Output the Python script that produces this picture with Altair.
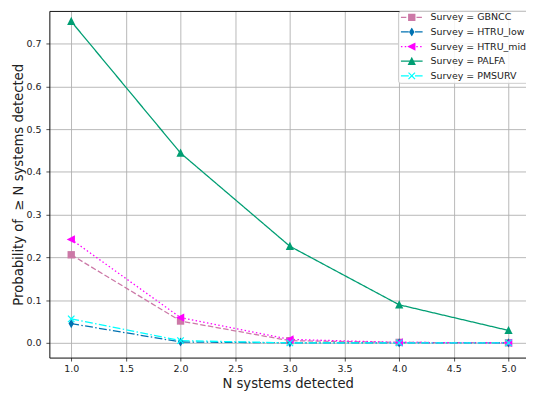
import altair as alt
import pandas as pd

# ---- data ----
n_systems = [1, 2, 3, 4, 5]
surveys = ["GBNCC", "HTRU_low", "HTRU_mid", "PALFA", "PMSURV"]
gbncc = [0.206, 0.051, 0.005, 0.001, 0.0]
htru_low = [0.045, 0.002, 0.0, 0.0, 0.0]
htru_mid = [0.242, 0.059, 0.008, 0.001, 0.0]
palfa = [0.752, 0.444, 0.226, 0.089, 0.029]
pmsurv = [0.056, 0.005, 0.0, 0.0, 0.0]

x_ticks = [1.0, 1.5, 2.0, 2.5, 3.0, 3.5, 4.0, 4.5, 5.0]
y_ticks = [0.0, 0.1, 0.2, 0.3, 0.4, 0.5, 0.6, 0.7]

labels = ["Survey = " + s for s in surveys]
series = [gbncc, htru_low, htru_mid, palfa, pmsurv]

rows = []
for s, lab, vals in zip(surveys, labels, series):
    for n, v in zip(n_systems, vals):
        rows.append({"Survey": lab, "Marker": s, "N": n, "P": v})
df = pd.DataFrame(rows)

# ---- styles ----
colors = ["#CC79A7", "#0072B2", "#FF00FF", "#009E73", "#00FFFF"]
dashes = [[5.5, 2.4], [8, 2.4, 1.5, 2.4], [1.5, 2.4], [1, 0], [8, 2.4, 1.5, 2.4]]
shapes = [
    "M-0.34,-0.34H0.34V0.34H-0.34Z",                  # square
    "M0,-0.42L0.25,0L0,0.42L-0.25,0Z",                # thin diamond
    "M-0.42,0L0.34,-0.38L0.34,0.38Z",                 # left triangle
    "M0,-0.42L0.38,0.34L-0.38,0.34Z",                 # up triangle
    "M-0.34,-0.26L-0.26,-0.34L0,-0.08L0.26,-0.34L0.34,-0.26L0.08,0L0.34,0.26L0.26,0.34L0,0.08L-0.26,0.34L-0.34,0.26L-0.08,0Z",  # x
]

FONT = "DejaVu Sans"
TXT = "#222222"

xscale = alt.Scale(domain=[0.8, 5.16], nice=False, zero=False)
yscale = alt.Scale(domain=[-0.03456, 0.7765], nice=False, zero=False)

legend_common = dict(
    orient="none", legendX=354, legendY=0, direction="vertical", title=None,
    padding=2, rowPadding=3.85, clipHeight=9, symbolSize=484,
    labelFont=FONT, labelFontSize=9.6, labelColor=TXT, labelOffset=7,
    symbolStrokeWidth=1.3,
)

legendA = alt.Legend(
    symbolType="stroke", fillColor="rgba(255,255,255,0.85)", strokeColor="#cccccc",
    cornerRadius=2.5, zindex=1, **legend_common,
)
legendB = alt.Legend(
    labelExpr="''", symbolStrokeColor="transparent", zindex=2, **legend_common,
)

xaxis = alt.Axis(
    values=x_ticks, format=".1f", title="N systems detected",
    labelFont=FONT, labelFontSize=9.6, labelColor=TXT, labelPadding=3,
    tickColor=TXT, tickSize=3.5, tickWidth=0.8,
    domainColor="black", domainWidth=0.9,
    grid=True, gridColor="#b0b0b0", gridWidth=0.9,
    titleFont=FONT, titleFontSize=13.4, titleFontWeight="normal", titleColor=TXT, titlePadding=3,
)
yaxis = alt.Axis(
    values=y_ticks, format=".1f", title="Probability of\u00a0 \u2265 N systems detected",
    labelFont=FONT, labelFontSize=9.6, labelColor=TXT, labelPadding=5,
    tickColor=TXT, tickSize=3.5, tickWidth=0.8,
    domainColor="black", domainWidth=0.9,
    grid=True, gridColor="#b0b0b0", gridWidth=0.9,
    titleFont=FONT, titleFontSize=13.4, titleFontWeight="normal", titleColor=TXT, titlePadding=1,
)

lines = alt.Chart(df).mark_line(strokeWidth=1.3).encode(
    x=alt.X("N:Q", scale=xscale, axis=xaxis),
    y=alt.Y("P:Q", scale=yscale, axis=yaxis),
    stroke=alt.Stroke("Survey:N", scale=alt.Scale(domain=labels, range=colors), legend=legendA),
    strokeDash=alt.StrokeDash("Survey:N", scale=alt.Scale(domain=labels, range=dashes), legend=legendA),
    order=alt.Order("N:Q"),
)

points = alt.Chart(df).mark_point(filled=True, size=484, strokeWidth=0, opacity=1).encode(
    x=alt.X("N:Q", scale=xscale, axis=None),
    y=alt.Y("P:Q", scale=yscale, axis=yaxis),
    fill=alt.Fill("Marker:N", scale=alt.Scale(domain=surveys, range=colors), legend=legendB),
    shape=alt.Shape("Marker:N", scale=alt.Scale(domain=surveys, range=shapes), legend=legendB),
)

top_frame = alt.Chart(df).mark_point(opacity=0).encode(
    x=alt.X("N:Q", scale=xscale, axis=alt.Axis(
        orient="top", labels=False, ticks=False, grid=False, domain=True,
        domainColor="black", domainWidth=0.9, title=None)),
)

chart = alt.layer(lines, points, top_frame).resolve_axis(x="independent").properties(
    width=484, height=352,
    padding={"left": 42, "top": 0, "right": 0, "bottom": 36},
    autosize=alt.AutoSizeParams(type="none"),
).configure_view(stroke=None).configure(font=FONT)

chart.save("out.html", embed_options={"renderer": "svg", "actions": False})
